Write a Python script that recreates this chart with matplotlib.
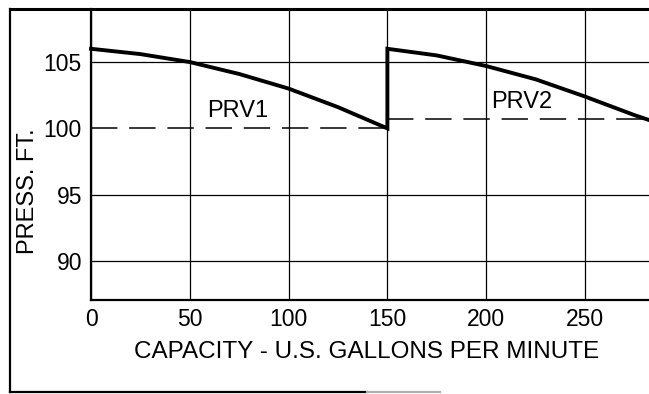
import matplotlib
matplotlib.use("Agg")
import matplotlib.pyplot as plt
from matplotlib.lines import Line2D

plt.rcParams['font.family'] = ['Liberation Sans', 'DejaVu Sans']
plt.rcParams['lines.scale_dashes'] = False

# Pressure along the main with two pressure reducing valves
prv1_q = [0, 25, 50, 75, 100, 125, 150]
prv1_p = [106.0, 105.6, 105.0, 104.1, 103.0, 101.6, 100.0]
prv2_q = [150, 175, 200, 225, 250, 275, 283]
prv2_p = [106.0, 105.5, 104.7, 103.7, 102.4, 101.0, 100.6]

# Valve set pressures (dashed)
prv1_set_q = [0, 150]
prv1_set_p = [100.0, 100.0]
prv2_set_q = [150, 283]
prv2_set_p = [100.7, 100.7]

x_ticks = [0, 50, 100, 150, 200, 250]
y_ticks = [90, 95, 100, 105]

W, H = 649, 394
fig = plt.figure(figsize=(W / 100, H / 100), dpi=100)

def fx(px):
    return px / W

def fy(py):
    return 1 - py / H

ax = fig.add_axes([fx(91), fy(300), fx(649) - fx(91), fy(9) - fy(300)])
ax.set_xlim(0, 282.4)
ax.set_ylim(87.06, 109.0)

ax.set_xticks(x_ticks)
ax.set_yticks(y_ticks)
ax.tick_params(length=0, labelsize=16.5, colors='black')
ax.tick_params(axis='x', pad=5.5)
ax.tick_params(axis='y', pad=6.5)
ax.grid(True, color='black', linewidth=0.9)
ax.set_axisbelow(True)
# the 100 ft level is shown by the dashed set-pressure lines instead
for val, gl in zip(y_ticks, ax.get_ygridlines()):
    if val == 100:
        gl.set_visible(False)

for side in ('right', 'top'):
    ax.spines[side].set_visible(False)
for side in ('left', 'bottom'):
    ax.spines[side].set_linewidth(1.6)

# Main pressure curve with the jump where PRV2 takes over
curve_q = prv1_q + prv2_q
curve_p = prv1_p + prv2_p
ax.plot(curve_q, curve_p, color='black', linewidth=2.8, solid_joinstyle='miter',
        clip_on=False)

dash = (0, (19, 8.5))
ax.plot(prv1_set_q, prv1_set_p, color='black', linewidth=1.1, linestyle=dash)
ax.plot(prv2_set_q, prv2_set_p, color='black', linewidth=1.1, linestyle=dash)

ax.text(74, 101.3, 'PRV1', fontsize=17, ha='center', va='center')
ax.text(218, 102.0, 'PRV2', fontsize=17, ha='center', va='center')

fig.text(fx(28), fy(191), 'PRESS. FT.', rotation=90, fontsize=17,
         ha='center', va='center')
fig.text(fx(367), fy(352), 'CAPACITY - U.S. GALLONS PER MINUTE', fontsize=17.5,
         ha='center', va='center')

# Outer frame
fig.add_artist(Line2D([fx(10), fx(649)], [fy(9), fy(9)], color='black',
                      linewidth=2.2, transform=fig.transFigure))
fig.add_artist(Line2D([fx(10), fx(10)], [fy(9), fy(392)], color='black',
                      linewidth=1.6, transform=fig.transFigure))
fig.add_artist(Line2D([fx(10), fx(367)], [fy(392), fy(392)], color='black',
                      linewidth=1.6, transform=fig.transFigure))
fig.add_artist(Line2D([fx(367), fx(440)], [fy(392), fy(392)], color='#b0b0b0',
                      linewidth=1.6, transform=fig.transFigure))

fig.savefig('out.png', dpi=100)
